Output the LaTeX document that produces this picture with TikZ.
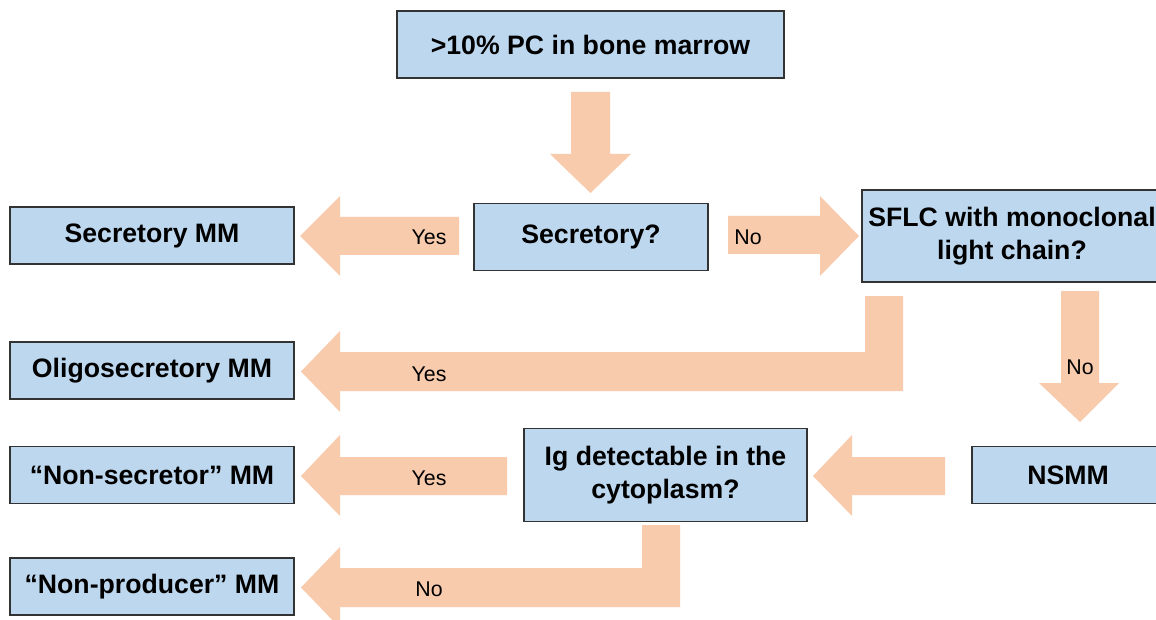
\documentclass[tikz,border=0pt]{standalone}
\usepackage{fontspec}
\setmainfont{Liberation Sans}
\usetikzlibrary{positioning}
\definecolor{boxblue}{RGB}{189,215,238}
\definecolor{peach}{RGB}{248,203,173}

\begin{document}
\begin{tikzpicture}[x=0.75pt,y=-0.75pt,
  box/.style={draw=black!80,line width=1.1pt,fill=boxblue,inner sep=0pt,align=center,
    font=\bfseries\fontsize{20}{25}\selectfont},
  blk/.style={fill=peach,draw=none},
  lbl/.style={inner sep=0pt,font=\fontsize{16}{18}\selectfont}]
\useasboundingbox (0,0) rectangle (1156,620);
% arrows
\path[blk] (571,92)--(610,92)--(610,154)--(631,154)--(590.5,193)--(550,154)--(571,154)--cycle;
\path[blk] (459,217)--(459,255)--(340,255)--(340,276)--(300,236)--(340,196)--(340,217)--cycle;
\path[blk] (728,216)--(820,216)--(820,196)--(859,236)--(820,276)--(820,254)--(728,254)--cycle;
\path[blk] (1061,291)--(1099,291)--(1099,383)--(1119,383)--(1080,422)--(1039,383)--(1061,383)--cycle;
\path[blk] (865,296)--(903,296)--(903,391)--(340,391)--(340,412)--(301,371.5)--(340,331)--(340,352)--(865,352)--cycle;
\path[blk] (945,457)--(945,495)--(852,495)--(852,516)--(813,476)--(852,435)--(852,457)--cycle;
\path[blk] (507,457)--(507,495)--(340,495)--(340,516)--(301,476)--(340,435)--(340,457)--cycle;
\path[blk] (642,525)--(680,525)--(680,607)--(340,607)--(340,628)--(301,587.5)--(340,547)--(340,568)--(642,568)--cycle;
% boxes
\node[box,minimum width=290pt,minimum height=50pt] (marrow) at (590.5,44.5) {>10\% PC in bone marrow};
\node[box,minimum width=175.5pt,minimum height=50.5pt] (secr) at (591,237) {Secretory?};
\node[box,minimum width=225pt,minimum height=69pt] (sflc) at (1012,236) {SFLC with monoclonal\\light chain?};
\node[box,minimum width=144pt,minimum height=42.5pt] (nsmm) at (1068,475) {NSMM};
\node[box,minimum width=212pt,minimum height=70pt] (ig) at (665.5,475) {Ig detectable in the\\cytoplasm?};
\node[box,minimum width=213pt,minimum height=42.75pt] (secmm) at (152,235.5) {Secretory MM};
\node[box,minimum width=213pt,minimum height=42.75pt] (oligo) at (152,370.5) {Oligosecretory MM};
\node[box,minimum width=213pt,minimum height=42.75pt] (nonsec) at (152,475) {“Non-secretor” MM};
\node[box,minimum width=213pt,minimum height=42.75pt] (nonprod) at (152,586.5) {“Non-producer” MM};
% labels
\node[lbl] (yes1) at (429,237) {Yes};
\node[lbl] (no1) at (748,237) {No};
\node[lbl] (no2) at (1080,367) {No};
\node[lbl] (yes2) at (429,374) {Yes};
\node[lbl] (yes3) at (429,478) {Yes};
\node[lbl] (no3) at (429,589) {No};
\end{tikzpicture}
\end{document}
